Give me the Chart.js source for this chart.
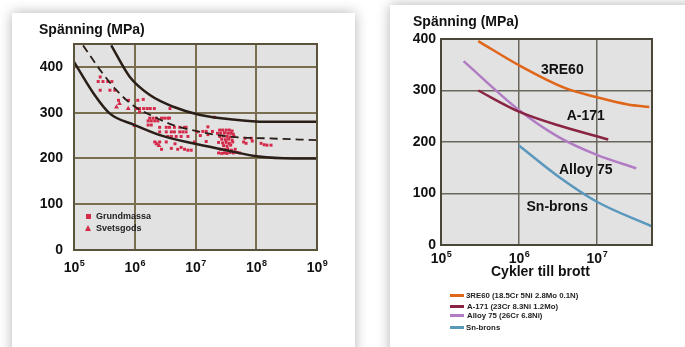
<!DOCTYPE html>
<html>
<head>
<meta charset="utf-8">
<script src="https://cdn.jsdelivr.net/npm/chart.js@4.4.1/dist/chart.umd.min.js"></script>
<style>
  body { margin: 0; width: 685px; height: 347px; overflow: hidden; background: #fff; position: relative;
         font-family: "Liberation Sans", Arial, sans-serif; }
  .card { position: absolute; background: #fff; box-shadow: 0 0 12px rgba(0,0,0,0.3); }
  #leftCard { left: 12px; top: 13px; width: 343px; height: 360px; }
  #rightCard { left: 390px; top: 5px; width: 320px; height: 360px; }
  canvas { position: absolute; }
  #leftChart { left: 12px; top: 13px; }
  #rightChart { left: 390px; top: 5px; }
  .txt { position: absolute; font-weight: bold; color: #111; white-space: nowrap; }
  .title { font-size: 14px; }
  .leg { font-size: 7.8px; color: #222; line-height: 9px; }
  .legline { position: absolute; width: 14px; height: 3px; }
  .pleg { font-size: 9px; color: #222; }
</style>
</head>
<body>
<div class="card" id="leftCard"></div>
<div class="card" id="rightCard"></div>
<canvas id="leftChart" width="343" height="300"></canvas>
<canvas id="rightChart" width="295" height="342"></canvas>

<div class="txt title" style="left:39px; top:21px;">Spänning (MPa)</div>
<div class="txt title" style="left:413px; top:13px;">Spänning (MPa)</div>
<div class="txt title" style="left:491px; top:263px;">Cykler till brott</div>

<div class="legline" style="left:450px; top:294px; background:#e0661a;"></div>
<div class="txt leg" style="left:466px; top:291px;">3RE60 (18.5Cr 5Ni 2.8Mo 0.1N)</div>
<div class="legline" style="left:450px; top:305px; background:#8a2443;"></div>
<div class="txt leg" style="left:467px; top:302px;">A-171 (23Cr 8.3Ni 1.2Mo)</div>
<div class="legline" style="left:450px; top:314px; background:#b27cc4;"></div>
<div class="txt leg" style="left:467px; top:311px;">Alloy 75 (26Cr 6.8Ni)</div>
<div class="legline" style="left:450px; top:326px; background:#5a97bd;"></div>
<div class="txt leg" style="left:466px; top:323px;">Sn-brons</div>

<div style="position:absolute; left:86px; top:214px; width:5px; height:5px; background:#d42a4a;"></div>
<div class="txt pleg" style="left:96px; top:211px;">Grundmassa</div>
<div style="position:absolute; left:85px; top:225px; width:0; height:0; border-left:3.5px solid transparent; border-right:3.5px solid transparent; border-bottom:6px solid #d42a4a;"></div>
<div class="txt pleg" style="left:96px; top:223px;">Svetsgods</div>

<script>
// ---- left chart data ----
const decadeTicks = [1e5, 1e6, 1e7, 1e8, 1e9];
const decadeExp = ['5', '6', '7', '8', '9'];
const stressTicksLeft = [0, 100, 200, 300, 400];

const lowerCurve = [[1e5, 411], [2.1e5, 342], [3.9e5, 298], [1e6, 273], [2.6e6, 251], [9e6, 233],
                    [3.2e7, 218], [1.1e8, 204], [4e8, 200], [1e9, 200]];
const upperCurve = [[4.1e5, 447], [8.3e5, 378], [1.8e6, 338], [4.3e6, 313], [1.2e7, 295],
                    [4.1e7, 285], [1.45e8, 280], [1e9, 280]];
const meanCurve = [[1.41e5, 447], [2.7e5, 393], [5e5, 349], [9.3e5, 316], [1.8e6, 295], [4.3e6, 273],
                   [1.2e7, 258], [4e7, 247], [1.45e8, 244], [1e9, 240]];

const grundmassa = [
  [2.7e5, 378], [2.5e5, 368], [3.0e5, 368], [3.6e5, 368], [4.2e5, 368], [2.7e5, 349], [3.9e5, 349],
  [4.7e5, 349], [5.4e5, 327], [7.9e5, 327], [1.12e6, 327], [1.38e6, 329], [1.07e6, 309], [1.2e6, 309],
  [1.4e6, 309], [1.6e6, 309], [1.8e6, 309], [2.1e6, 309], [1.2e6, 302], [3.8e6, 309],
  [1.76e6, 288], [2.0e6, 288], [2.27e6, 288], [2.76e6, 288], [3.1e6, 288], [3.5e6, 288], [3.73e6, 288],
  [1.66e6, 282], [1.87e6, 282], [2.13e6, 282], [2.4e6, 282], [1.66e6, 273], [1.87e6, 273],
  [2.57e6, 268], [3.3e6, 268], [3.73e6, 268], [4.5e6, 268], [5.5e6, 268], [6.6e6, 268], [7.0e6, 268],
  [2.57e6, 258], [3.3e6, 258], [4.0e6, 258], [4.5e6, 258], [5.5e6, 258], [6.2e6, 258], [7.0e6, 258],
  [3.5e6, 248], [4.0e6, 248], [4.8e6, 248], [5.8e6, 248], [7.5e6, 248],
  [2.13e6, 236], [2.57e6, 236], [3.3e6, 236], [4.6e6, 232],
  [2.76e6, 220], [4.0e6, 222], [5.1e6, 220], [5.8e6, 224], [6.6e6, 220], [7.5e6, 218], [8.5e6, 218],
  [9.6e6, 236], [1.06e7, 258], [1.6e7, 269], [2.05e7, 290], [1.32e7, 259], [1.5e7, 259], [1.9e7, 259],
  [1.6e7, 252], [2.3e7, 255], [1.5e7, 237], [1.2e7, 250],
  [2.5e7, 262], [2.8e7, 262], [3.2e7, 262], [3.6e7, 262], [4.0e7, 260],
  [2.6e7, 255], [3.0e7, 256], [3.4e7, 255], [3.8e7, 255], [4.2e7, 253],
  [2.5e7, 248], [2.9e7, 249], [3.3e7, 248], [3.7e7, 247], [4.3e7, 248],
  [2.7e7, 242], [3.1e7, 241], [3.5e7, 242], [4.0e7, 240],
  [2.4e7, 235], [2.8e7, 234], [3.2e7, 235], [3.6e7, 233], [4.1e7, 236],
  [2.9e7, 228], [3.3e7, 227], [3.8e7, 229],
  [2.6e7, 220], [3.0e7, 219], [3.4e7, 221], [3.9e7, 218], [4.5e7, 220],
  [2.4e7, 212], [2.7e7, 211], [3.0e7, 212], [3.3e7, 211], [3.7e7, 213], [4.2e7, 212], [4.8e7, 213], [5.3e7, 212],
  [6.2e7, 236], [6.8e7, 233], [6.5e7, 244], [8.3e7, 244], [8.6e7, 238],
  [1.2e8, 233], [1.35e8, 230], [1.5e8, 229], [1.75e8, 229]
];
const svetsgods = [[5.6e5, 320], [5.0e5, 312], [7.8e5, 309], [1.0e6, 272], [2.3e6, 232], [2.5e6, 228]];

// ---- right chart data ----
const rightTicksX = [1e5, 1e6, 1e7];
const rightExp = ['5', '6', '7'];
const stressTicksRight = [0, 100, 200, 300, 400];

const alloyNames = ['3RE60', 'A-171', 'Alloy 75', 'Sn-brons'];
const alloyColors = ['#e0661a', '#8a2443', '#b27cc4', '#5a97bd'];
const re60 = [[3e5, 396], [1e6, 349], [4e6, 304], [1e7, 287], [2.5e7, 273], [4.7e7, 268]];
const a171 = [[3e5, 300], [1e6, 259], [3.6e6, 230], [1.4e7, 205]];
const alloy75 = [[1.95e5, 357], [1e6, 262], [3.2e6, 210], [1e7, 175], [3.2e7, 149]];
const snBrons = [[1e6, 193], [3.2e6, 133], [1e7, 84], [5.1e7, 36]];
const alloyLabelPos = [[3.6e6, 340], [7.2e6, 250], [7.2e6, 146], [3.1e6, 73]];

const toXY = arr => arr.map(p => ({ x: p[0], y: p[1] }));
const FONT = '"Liberation Sans", Arial, sans-serif';
const tickFont = { family: FONT, size: 14, weight: 'bold' };

const framePlugin = {
  id: 'frame',
  beforeDraw(chart, args, opts) {
    const a = chart.chartArea, ctx = chart.ctx;
    ctx.save();
    ctx.fillStyle = opts.bg;
    ctx.fillRect(a.left, a.top, a.right - a.left, a.bottom - a.top);
    ctx.restore();
  },
  afterDraw(chart, args, opts) {
    const a = chart.chartArea, ctx = chart.ctx;
    ctx.save();
    ctx.strokeStyle = opts.color;
    ctx.lineWidth = 2;
    ctx.strokeRect(a.left, a.top, a.right - a.left, a.bottom - a.top);
    // power-of-ten tick labels with raised exponent
    const xs = chart.scales.x;
    const cy = a.bottom + opts.labelOffset;
    ctx.fillStyle = '#111';
    ctx.textBaseline = 'alphabetic';
    opts.ticks.forEach((v, i) => {
      ctx.font = 'bold 14px ' + FONT;
      const w1 = ctx.measureText('10').width;
      ctx.font = 'bold 9px ' + FONT;
      const w2 = ctx.measureText(opts.exps[i]).width;
      const x0 = xs.getPixelForValue(v) - (w1 + w2) / 2;
      ctx.font = 'bold 14px ' + FONT;
      ctx.fillText('10', x0, cy + 5);
      ctx.font = 'bold 9px ' + FONT;
      ctx.fillText(opts.exps[i], x0 + w1 + 0.5, cy - 1.5);
    });
    ctx.restore();
  }
};

const curveLabels = {
  id: 'curveLabels',
  afterDatasetsDraw(chart) {
    const ctx = chart.ctx, xs = chart.scales.x, ys = chart.scales.y;
    ctx.save();
    ctx.font = 'bold 14px ' + FONT;
    ctx.fillStyle = '#111';
    ctx.textAlign = 'center';
    ctx.textBaseline = 'middle';
    alloyNames.forEach((n, i) => {
      ctx.fillText(n, xs.getPixelForValue(alloyLabelPos[i][0]), ys.getPixelForValue(alloyLabelPos[i][1]));
    });
    ctx.restore();
  }
};

function curve(data, dash, width) {
  return { type: 'line', data: toXY(data), borderColor: '#2a1f18', borderWidth: width || 2.5, borderDash: dash || [],
           pointRadius: 0, cubicInterpolationMode: 'monotone', fill: false };
}

new Chart(document.getElementById('leftChart'), {
  type: 'scatter',
  data: {
    datasets: [
      curve(lowerCurve), curve(upperCurve), curve(meanCurve, [8, 5], 1.8),
      { label: 'Grundmassa', data: toXY(grundmassa), pointStyle: 'rect', pointRadius: 2.1,
        backgroundColor: '#d42a4a', borderWidth: 0 },
      { label: 'Svetsgods', data: toXY(svetsgods), pointStyle: 'triangle', pointRadius: 2.8,
        backgroundColor: '#d42a4a', borderWidth: 0 }
    ]
  },
  options: {
    responsive: false, animation: false,
    layout: { padding: { left: 0, top: 31, right: 38, bottom: 33 } },
    plugins: { legend: { display: false }, tooltip: { enabled: false },
               frame: { bg: '#e2e2e2', color: '#5b523c', ticks: decadeTicks, exps: decadeExp, labelOffset: 17 } },
    scales: {
      x: {
        type: 'logarithmic', min: 1e5, max: 1e9,
        afterBuildTicks: s => { s.ticks = decadeTicks.map(v => ({ value: v })); },
        afterFit: s => { s.height = 30; },
        ticks: { display: false },
        grid: { color: '#7a6e50', lineWidth: 2, drawTicks: false },
        border: { display: false }
      },
      y: {
        min: 0, max: 450,
        afterBuildTicks: s => { s.ticks = stressTicksLeft.map(v => ({ value: v })); },
        afterFit: s => { s.width = 62; },
        ticks: { font: tickFont, color: '#111', padding: 11 },
        grid: { color: '#7a6e50', lineWidth: 2, drawTicks: false },
        border: { display: false }
      }
    }
  },
  plugins: [framePlugin]
});

const rightSeries = [re60, a171, alloy75, snBrons];

new Chart(document.getElementById('rightChart'), {
  type: 'line',
  data: {
    datasets: rightSeries.map((s, i) => ({
      label: alloyNames[i], data: toXY(s), borderColor: alloyColors[i], borderWidth: 2.5,
      pointRadius: 0, cubicInterpolationMode: 'monotone', fill: false
    }))
  },
  options: {
    responsive: false, animation: false,
    layout: { padding: { left: 0, top: 34, right: 33, bottom: 77 } },
    plugins: { legend: { display: false }, tooltip: { enabled: false },
               frame: { bg: '#e2e2e2', color: '#4a4638', ticks: rightTicksX, exps: rightExp, labelOffset: 13 } },
    scales: {
      x: {
        type: 'logarithmic', min: 1e5, max: 5.1e7,
        afterBuildTicks: s => { s.ticks = rightTicksX.map(v => ({ value: v })); },
        afterFit: s => { s.height = 25; },
        ticks: { display: false },
        grid: { color: '#6b675c', lineWidth: 1.5, drawTicks: false },
        border: { display: false }
      },
      y: {
        min: 0, max: 400,
        afterBuildTicks: s => { s.ticks = stressTicksRight.map(v => ({ value: v })); },
        afterFit: s => { s.width = 51; },
        ticks: { font: tickFont, color: '#111', padding: 5 },
        grid: { color: '#6b675c', lineWidth: 1.5, drawTicks: false },
        border: { display: false }
      }
    }
  },
  plugins: [framePlugin, curveLabels]
});
</script>
</body>
</html>
